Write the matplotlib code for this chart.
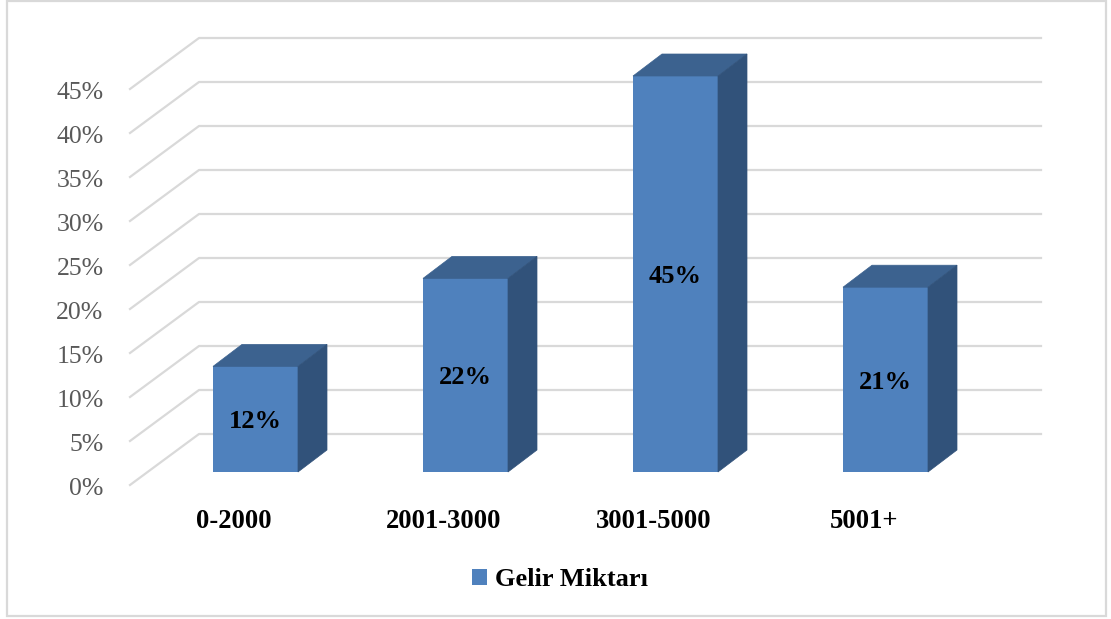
import matplotlib.pyplot as plt
from matplotlib.patches import Patch, Rectangle
from matplotlib.transforms import ScaledTranslation

# Chart data
categories = ['0-2000', '2001-3000', '3001-5000', '5001+']
values = [12, 22, 45, 21]
y_ticks = [0, 5, 10, 15, 20, 25, 30, 35, 40, 45]
series_name = 'Gelir Miktarı'

W, H = 1111, 619
plt.rcParams['font.family'] = ['Liberation Serif', 'DejaVu Serif']

fig = plt.figure(figsize=(W / 100, H / 100), dpi=100, facecolor='white')
fig.add_artist(Rectangle((7 / W, 1 - 616 / H), 1099 / W, 615 / H, transform=fig.transFigure,
                         facecolor='white', edgecolor='#d9d9d9', linewidth=1.6, zorder=-1))

# axes origin sits on the front-left corner of the fake 3D floor
ax = fig.add_axes([130 / W, (H - 485) / H, (W - 130) / W, 485 / H])
ax.patch.set_alpha(0)
px_x = 1 / 210   # one category step is 210 px
px_y = 1 / 8.8   # one percent is 8.8 px
ax.set_xlim(-104 * px_x, 877 * px_x)
ax.set_ylim(0, 485 * px_y)
for s in ax.spines.values():
    s.set_visible(False)

# back wall gridlines and the diagonals on the side wall
wall_dy = 51 * px_y
wall_left = -35 * px_x
wall_right = 807 * px_x
front_left = -104 * px_x
for v in y_ticks:
    ax.plot([front_left, wall_left, wall_right], [v, v + wall_dy, v + wall_dy],
            color='#d9d9d9', lw=1.6, zorder=1, clip_on=False)

# bars, front face from the library, top and side added as polygons
bar_x = [i + 21.5 * px_x for i in range(len(values))]
bar_w = 85 * px_x
floor = 13 * px_y
dx = 29 * px_x
dy = 22 * px_y
bars = ax.bar(bar_x, values, width=bar_w, bottom=floor, color='#4f81bd', zorder=3)
for x, v in zip(bar_x, values):
    l, r = x - bar_w / 2, x + bar_w / 2
    t = floor + v
    ax.fill([l, l + dx, r + dx, r], [t, t + dy, t + dy, t], color='#3c628f', lw=0.5, zorder=3)
    ax.fill([r, r + dx, r + dx, r], [floor, floor + dy, t + dy, t], color='#31527a', lw=0.5, zorder=3)

ax.bar_label(bars, labels=[f'{v}%' for v in values], label_type='center', padding=-2,
             fontsize=19, fontweight='bold', color='black', zorder=4)

ax.set_yticks(y_ticks)
ax.set_yticklabels([f'{v}%' for v in y_ticks], fontsize=18.5, color='#595959')
ax.set_xticks(range(len(categories)))
ax.set_xticklabels(categories, fontsize=19.2, fontweight='bold', color='black')
ax.tick_params(axis='y', length=0, pad=19)
ax.tick_params(axis='x', length=0, pad=17)

# nudge the percent labels down a little
nudge = ScaledTranslation(0, -1.5 / 100, fig.dpi_scale_trans)
for lab in ax.get_yticklabels():
    lab.set_transform(lab.get_transform() + nudge)

fig.legend(handles=[Patch(facecolor='#4f81bd', label=series_name)], loc='center',
           bbox_to_anchor=(560 / W, 1 - 580 / H), frameon=False, handlelength=0.57, handleheight=0.55,
           handletextpad=0.27, prop={'size': 19, 'weight': 'bold'})

fig.savefig('out.png', dpi=100)
